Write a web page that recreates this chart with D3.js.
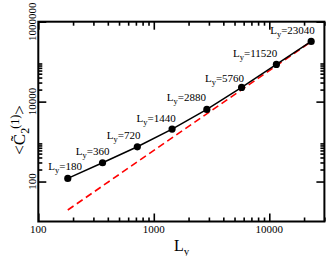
<!DOCTYPE html>
<html>
<head>
<meta charset="utf-8">
<script src="https://cdn.jsdelivr.net/npm/d3@7"></script>
<style>
  body { margin: 0; background: #fff; }
  text { font-family: "Liberation Serif", "Times New Roman", serif; fill: #000; }
</style>
</head>
<body>
<div id="chart"></div>
<script>
// system sizes and measured <C2~(1)>
const sizes = [180, 360, 720, 1440, 2880, 5760, 11520, 23040];
const c2 = [120, 295, 741, 2053, 6380, 22650, 85100, 320000];
// L^2 reference line (dashed red)
const fitL = [180, 23040];
const fitC = [19.4, 318000];

const xMajor = [100, 1000, 10000];
const yMajor = [100, 10000, 1000000];
const xTickLabels = ["100", "1000", "10000"];
const yTickLabels = ["100", "10000", "1000000"];

// hand placement of point labels (dx, dy from marker)
const labelNudge = [[-19.5, -8], [-26.7, -7.7], [-30.6, -7.4], [-35.6, -7.3],
                    [-40, -8.3], [-36.7, -5.6], [-43.4, -7], [-41, -7]];

const W = 327, H = 256;
const margin = { top: 21.7, right: 2.6, bottom: 34.5, left: 38.3 };
const width = W - margin.left - margin.right;
const height = H - margin.top - margin.bottom;

const svg = d3.select("#chart").append("svg")
    .attr("width", W).attr("height", H);

const g = svg.append("g")
    .attr("transform", `translate(${margin.left},${margin.top})`);

const x = d3.scaleLog().domain([100, 30000]).range([0, width]);
const y = d3.scaleLog().domain([10, 1000000]).range([height, 0]);

// minor ticks 2..9 per decade
const xMinor = [];
[100, 1000, 10000].forEach(d => {
    for (let k = 2; k <= 9; k++) if (k * d <= 30000) xMinor.push(k * d);
});
const yMinor = [];
[100, 10000].forEach(d => {
    for (let k = 2; k <= 9; k++) yMinor.push(k * d);
});

function ticks(axisFn, scale, values, size, transform) {
    const a = g.append("g")
        .attr("transform", transform || null)
        .call(axisFn(scale).tickValues(values).tickSize(size).tickFormat(""));
    a.select(".domain").remove();
    a.selectAll("line").attr("stroke", "#000").attr("stroke-width", 1.6);
    return a;
}

ticks(d3.axisBottom, x, xMajor, -8, `translate(0,${height})`);
ticks(d3.axisBottom, x, xMinor, -4, `translate(0,${height})`);
ticks(d3.axisTop, x, xMajor, -8);
ticks(d3.axisTop, x, xMinor, -4);
ticks(d3.axisLeft, y, yMajor, -8);
ticks(d3.axisLeft, y, yMinor, -4);
ticks(d3.axisRight, y, yMajor, -8, `translate(${width},0)`);
ticks(d3.axisRight, y, yMinor, -4, `translate(${width},0)`);

// frame
g.append("rect")
    .attr("width", width).attr("height", height)
    .attr("fill", "none").attr("stroke", "#000").attr("stroke-width", 2);

// tick labels
g.selectAll(".xtl").data(xMajor).enter().append("text")
    .attr("x", d => x(d)).attr("y", height + 11.5)
    .attr("text-anchor", "middle").attr("font-size", 11)
    .text((d, i) => xTickLabels[i]);

g.selectAll(".ytl").data(yMajor).enter().append("text")
    .attr("transform", d => `translate(-2.5,${y(d)}) rotate(-90)`)
    .attr("text-anchor", "middle").attr("font-size", 11)
    .text((d, i) => yTickLabels[i]);

// L^2 line
const fit = fitL.map((l, i) => ({ l, c: fitC[i] }));
g.append("path").datum(fit)
    .attr("fill", "none").attr("stroke", "#ff0000").attr("stroke-width", 1.6)
    .attr("stroke-dasharray", "7,4")
    .attr("d", d3.line().x(d => x(d.l)).y(d => y(d.c)));

// data
const pts = sizes.map((l, i) => ({ l, c: c2[i] }));
g.append("path").datum(pts)
    .attr("fill", "none").attr("stroke", "#000").attr("stroke-width", 1.5)
    .attr("d", d3.line().x(d => x(d.l)).y(d => y(d.c)));

g.selectAll(".pt").data(pts).enter().append("circle")
    .attr("cx", d => x(d.l)).attr("cy", d => y(d.c)).attr("r", 3.6)
    .attr("fill", "#000");

const lab = g.selectAll(".lab").data(pts).enter().append("text")
    .attr("x", (d, i) => x(d.l) + labelNudge[i][0])
    .attr("y", (d, i) => y(d.c) + labelNudge[i][1])
    .attr("font-size", 11);
lab.append("tspan").text("L");
lab.append("tspan").attr("font-size", 8.5).attr("dy", 3).text("y");
lab.append("tspan").attr("dy", -3).text(d => "=" + d.l);

// axis titles
const xt = svg.append("text")
    .attr("x", 174).attr("y", 251).attr("font-size", 16);
xt.append("tspan").text("L");
xt.append("tspan").attr("font-size", 11).attr("dy", 4).text("y");

const yt = svg.append("text")
    .attr("transform", "translate(25,130) rotate(-90)")
    .attr("text-anchor", "middle").attr("font-size", 17);
yt.append("tspan").text("<C\u0303");
yt.append("tspan").attr("font-size", 12).attr("dy", 4).text("2");
yt.append("tspan").attr("font-size", 12).attr("dy", -10).attr("dx", -1).text("(1)");
yt.append("tspan").attr("dy", 6).text(">");
</script>
</body>
</html>
